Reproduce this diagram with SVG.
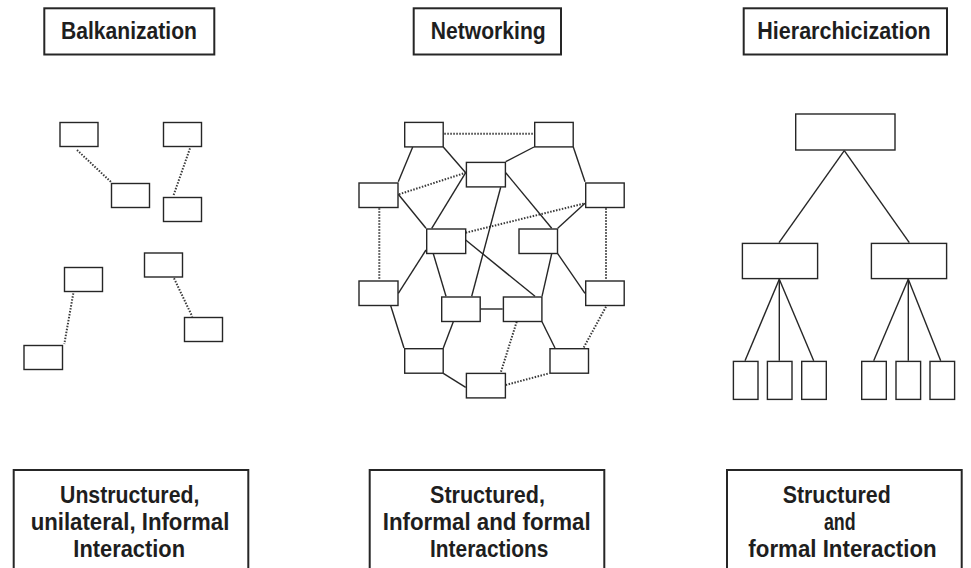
<svg xmlns="http://www.w3.org/2000/svg" width="971" height="568" viewBox="0 0 971 568">
<style>
.bg{fill:#fff}
.box{fill:#fff;stroke:#262626;stroke-width:1.4}
.frame{fill:#fff;stroke:#262626;stroke-width:2}
.solid{stroke:#262626;stroke-width:1.4;fill:none}
.dot{stroke:#3a3a3a;stroke-width:2;stroke-dasharray:1.5 1.5;fill:none}
.t{font-family:"Liberation Sans",Arial,sans-serif;font-weight:bold;fill:#1e1e1e;text-anchor:middle}
.title{font-size:24px}
.cap{font-size:23.5px}
</style>
<rect class="bg" x="0" y="0" width="971" height="568"/>

<!-- Titles -->
<g id="title-balkanization">
<rect class="frame" x="44.3" y="8.3" width="170" height="46.2"/>
<text class="t title" x="129" y="39.3" textLength="136" lengthAdjust="spacingAndGlyphs">Balkanization</text>
</g>
<g id="title-networking">
<rect class="frame" x="413.7" y="8.3" width="147.3" height="46.2"/>
<text class="t title" x="488.2" y="39.3" textLength="115" lengthAdjust="spacingAndGlyphs">Networking</text>
</g>
<g id="title-hierarchicization">
<rect class="frame" x="743.7" y="8.3" width="203.3" height="46.2"/>
<text class="t title" x="844" y="39.3" textLength="173.4" lengthAdjust="spacingAndGlyphs">Hierarchicization</text>
</g>

<!-- Connectors -->
<g id="connectors">
<!-- Balkanization dotted -->
<line class="dot" x1="77" y1="150" x2="111" y2="182"/>
<line class="dot" x1="190" y1="148.3" x2="173.3" y2="196"/>
<line class="dot" x1="73.3" y1="293.3" x2="64.3" y2="344"/>
<line class="dot" x1="174" y1="278.3" x2="192.3" y2="316.7"/>
<!-- Networking dotted -->
<line class="dot" x1="444.3" y1="133.7" x2="533.3" y2="133.7"/>
<line class="dot" x1="399" y1="194.3" x2="465.7" y2="172.7"/>
<line class="dot" x1="379.3" y1="208.3" x2="379.3" y2="280"/>
<line class="dot" x1="465.7" y1="232.7" x2="585" y2="203.3"/>
<line class="dot" x1="606" y1="208.3" x2="606" y2="280"/>
<line class="dot" x1="516.7" y1="321.7" x2="500.7" y2="372.7"/>
<line class="dot" x1="505.7" y1="385" x2="549.3" y2="373.3"/>
<line class="dot" x1="606" y1="306.7" x2="583.3" y2="348.3"/>
<!-- Networking solid -->
<line class="solid" x1="412.7" y1="147" x2="398.3" y2="181.7"/>
<line class="solid" x1="443.3" y1="147" x2="465.7" y2="172.7"/>
<line class="solid" x1="465.7" y1="172.7" x2="431.7" y2="228.3"/>
<line class="solid" x1="398.3" y1="194.3" x2="426" y2="228.3"/>
<line class="solid" x1="505.7" y1="161.7" x2="534" y2="147"/>
<line class="solid" x1="500.7" y1="187.3" x2="471.7" y2="296.3"/>
<line class="solid" x1="505.7" y1="172.7" x2="551.7" y2="228.3"/>
<line class="solid" x1="573.3" y1="147" x2="585" y2="181.7"/>
<line class="solid" x1="585" y1="203.3" x2="557.7" y2="228.3"/>
<line class="solid" x1="426" y1="250" x2="398.3" y2="293.3"/>
<line class="solid" x1="433.3" y1="253.7" x2="446" y2="296.3"/>
<line class="solid" x1="465.7" y1="240" x2="535" y2="296.3"/>
<line class="solid" x1="551.7" y1="253.7" x2="542" y2="296.3"/>
<line class="solid" x1="557.7" y1="253.7" x2="585" y2="293.3"/>
<line class="solid" x1="480.3" y1="309" x2="502.7" y2="309"/>
<line class="solid" x1="390.7" y1="305.7" x2="404" y2="348"/>
<line class="solid" x1="453.3" y1="321.7" x2="443.3" y2="348"/>
<line class="solid" x1="443.3" y1="373.3" x2="465.7" y2="387.3"/>
<line class="solid" x1="542" y1="321.7" x2="555" y2="348"/>
<!-- Hierarchy solid -->
<line class="solid" x1="844.3" y1="150.7" x2="779" y2="242.7"/>
<line class="solid" x1="844.3" y1="150.7" x2="909.3" y2="242.7"/>
<line class="solid" x1="779.3" y1="279.3" x2="745" y2="360.7"/>
<line class="solid" x1="779.3" y1="279.3" x2="779.3" y2="360.7"/>
<line class="solid" x1="779.3" y1="279.3" x2="813.7" y2="360.7"/>
<line class="solid" x1="908.3" y1="279.3" x2="873.7" y2="360.7"/>
<line class="solid" x1="908.3" y1="279.3" x2="908.3" y2="360.7"/>
<line class="solid" x1="908.3" y1="279.3" x2="940.7" y2="360.7"/>
</g>

<!-- Balkanization nodes -->
<g id="b1"><rect class="box" x="60" y="122.5" width="38" height="24"/></g>
<g id="b2"><rect class="box" x="163.5" y="122.5" width="38" height="24"/></g>
<g id="b3"><rect class="box" x="111.5" y="183.5" width="38" height="24"/></g>
<g id="b4"><rect class="box" x="163.5" y="197.5" width="38" height="24"/></g>
<g id="b5"><rect class="box" x="64.5" y="267.5" width="38" height="24"/></g>
<g id="b6"><rect class="box" x="144.5" y="253" width="38" height="24"/></g>
<g id="b7"><rect class="box" x="184.5" y="317.5" width="38" height="24"/></g>
<g id="b8"><rect class="box" x="24" y="345.5" width="38.5" height="24"/></g>

<!-- Networking nodes -->
<g id="n1"><rect class="box" x="404.7" y="122.4" width="38.5" height="24.5"/></g>
<g id="n2"><rect class="box" x="534.7" y="122.4" width="38.5" height="24.5"/></g>
<g id="n3"><rect class="box" x="466.4" y="162.4" width="39" height="24.5"/></g>
<g id="n4"><rect class="box" x="359" y="183" width="39" height="24.5"/></g>
<g id="n5"><rect class="box" x="585.7" y="183" width="38.5" height="24.5"/></g>
<g id="n6"><rect class="box" x="426.7" y="229" width="39" height="24.5"/></g>
<g id="n7"><rect class="box" x="519" y="229" width="38.5" height="24.5"/></g>
<g id="n8"><rect class="box" x="359" y="281" width="39" height="24.5"/></g>
<g id="n9"><rect class="box" x="585.7" y="281" width="38.5" height="24.5"/></g>
<g id="n10"><rect class="box" x="441.7" y="297" width="38.5" height="24.5"/></g>
<g id="n11"><rect class="box" x="503.4" y="297" width="38.5" height="24.5"/></g>
<g id="n12"><rect class="box" x="404.7" y="348.7" width="38.5" height="24.5"/></g>
<g id="n13"><rect class="box" x="550" y="348.7" width="38.5" height="24.5"/></g>
<g id="n14"><rect class="box" x="466.4" y="373.4" width="39" height="24.5"/></g>

<!-- Hierarchy nodes -->
<g id="h-top"><rect class="box" x="795.7" y="114" width="99.3" height="36"/></g>
<g id="h-mid-left"><rect class="box" x="742.4" y="243.4" width="75.2" height="35.2"/></g>
<g id="h-mid-right"><rect class="box" x="871.4" y="243.4" width="75.2" height="35.2"/></g>
<g id="h-leaf1"><rect class="box" x="733.4" y="361.4" width="24.6" height="38"/></g>
<g id="h-leaf2"><rect class="box" x="767.4" y="361.4" width="24.6" height="38"/></g>
<g id="h-leaf3"><rect class="box" x="801.7" y="361.4" width="24.6" height="38"/></g>
<g id="h-leaf4"><rect class="box" x="861.7" y="361.4" width="24.6" height="38"/></g>
<g id="h-leaf5"><rect class="box" x="896" y="361.4" width="24.6" height="38"/></g>
<g id="h-leaf6"><rect class="box" x="930" y="361.4" width="24.6" height="38"/></g>

<!-- Caption boxes -->
<g id="caption-balkanization">
<rect class="frame" x="13.7" y="470" width="234.6" height="110"/>
<text class="t cap" x="129.7" y="503.3" textLength="139.3" lengthAdjust="spacingAndGlyphs">Unstructured,</text>
<text class="t cap" x="130" y="530.3" textLength="198.7" lengthAdjust="spacingAndGlyphs">unilateral, Informal</text>
<text class="t cap" x="129.2" y="557" textLength="111.7" lengthAdjust="spacingAndGlyphs">Interaction</text>
</g>
<g id="caption-networking">
<rect class="frame" x="369.7" y="470" width="234.6" height="110"/>
<text class="t cap" x="487.5" y="503.3" textLength="115" lengthAdjust="spacingAndGlyphs">Structured,</text>
<text class="t cap" x="486.7" y="530.3" textLength="208" lengthAdjust="spacingAndGlyphs">Informal and formal</text>
<text class="t cap" x="489.2" y="557" textLength="118.3" lengthAdjust="spacingAndGlyphs">Interactions</text>
</g>
<g id="caption-hierarchicization">
<rect class="frame" x="727" y="470" width="234.7" height="110"/>
<text class="t cap" x="836.7" y="503.3" textLength="108" lengthAdjust="spacingAndGlyphs">Structured</text>
<text class="t cap" x="839.8" y="530.3" textLength="31.7" lengthAdjust="spacingAndGlyphs">and</text>
<text class="t cap" x="842.5" y="557" textLength="188.3" lengthAdjust="spacingAndGlyphs">formal Interaction</text>
</g>
</svg>
